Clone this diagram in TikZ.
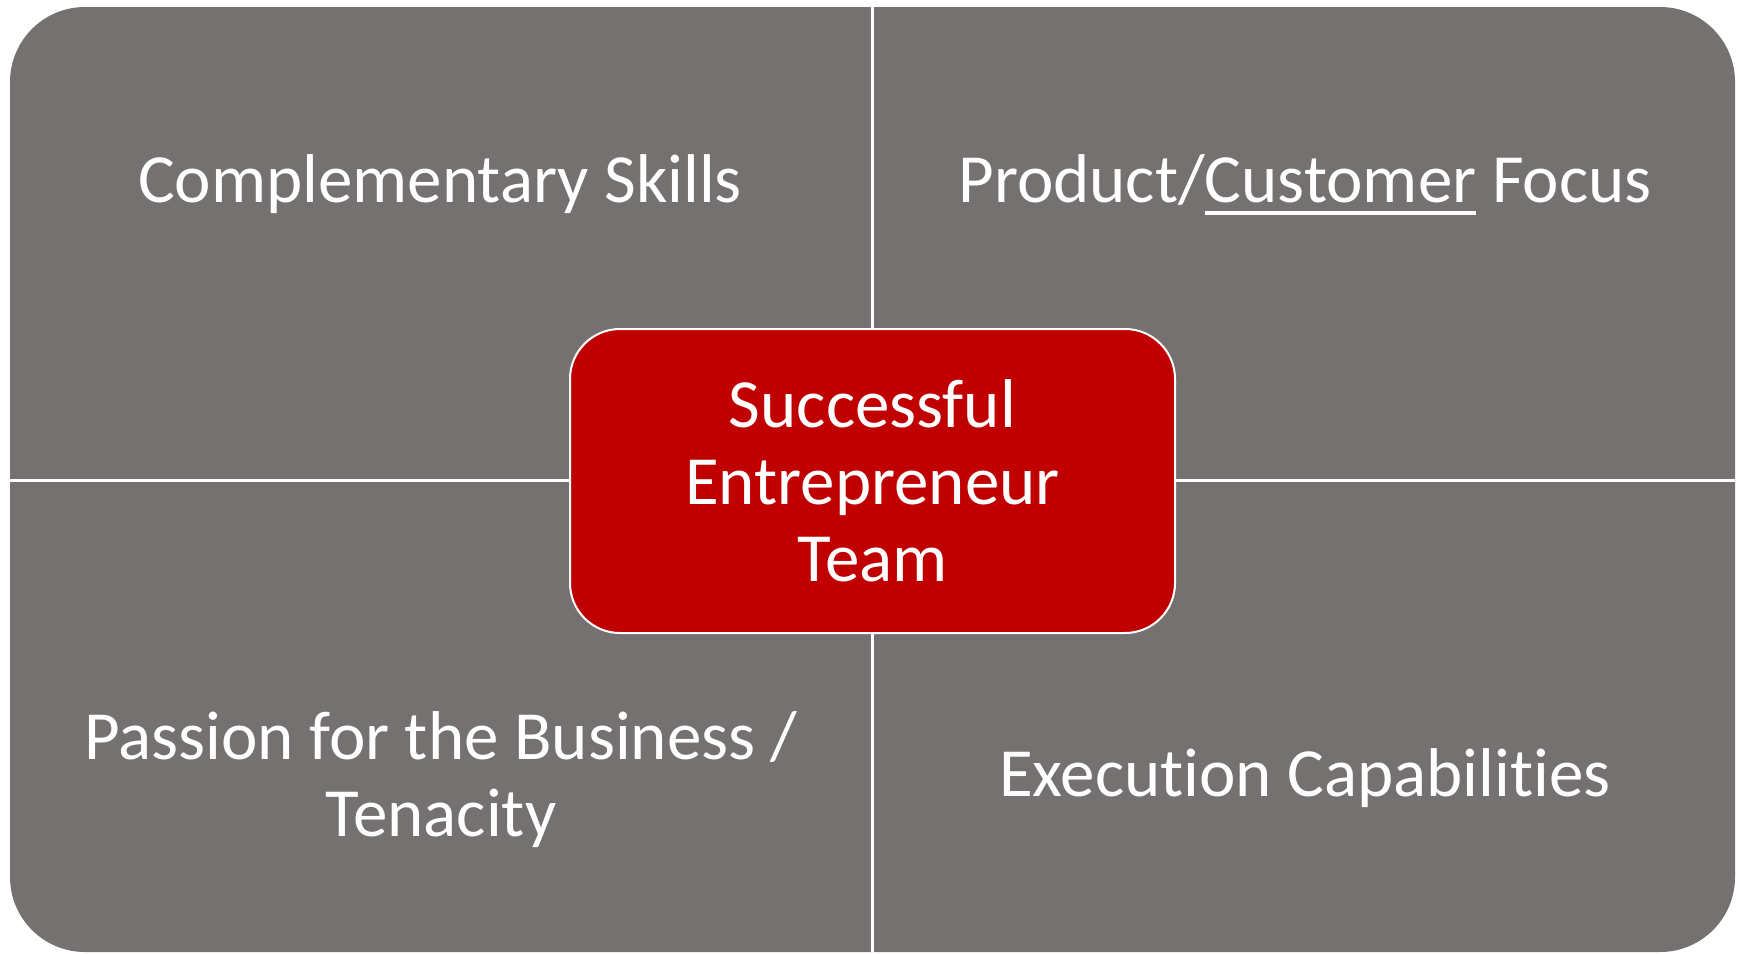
\documentclass[tikz,border=0pt]{standalone}
\usepackage{fontspec}
\setmainfont{Carlito}[Ligatures=NoCommon]
\usepackage{xcolor}
\usepackage{tikz}
\usetikzlibrary{positioning}
\definecolor{boardgray}{HTML}{767171}
\definecolor{hubred}{HTML}{C00000}
\newcommand{\ulword}[1]{\setbox0\hbox{#1}\rlap{\rule[-6.5pt]{\wd0}{2pt}}\box0\relax}
\tikzset{
  quad label/.style={
    text=white,
    font=\fontsize{34.5}{38.5}\selectfont,
    align=center,
    inner sep=0pt,
  },
  hub/.style={
    rectangle,
    rounded corners=25pt,
    minimum width=302.5pt,
    minimum height=152pt,
    fill=hubred,
    draw=white,
    line width=1pt,
    text=white,
    font=\fontsize{34.5}{38.5}\selectfont,
    align=center,
  },
  divider/.style={white, line width=1.5pt},
}

\begin{document}
\begin{tikzpicture}[x=0.5pt,y=-0.5pt]
  \useasboundingbox (0,0) rectangle (1743,953);

  % grey board, split in four by white gaps
  \fill[boardgray,rounded corners=37.5pt] (10,7) rectangle (1735,952);
  \coordinate (gap top) at (872.5,0);
  \coordinate (gap bottom) at (872.5,953);
  \coordinate (gap left) at (10,480.5);
  \coordinate (gap right) at (1735,480.5);
  \draw[divider] (gap top) -- (gap bottom);
  \draw[divider] (gap left) -- (gap right);

  \node[hub] (team) at (872.5,481) {Successful\\Entrepreneur\\Team};

  \node[quad label,anchor=base] (skills) at (440,202) {Complementary Skills};
  \node[quad label,anchor=base] (focus) at (1305,202) {Product/\ulword{Customer} Focus};
  % base sits on the last line here
  \node[quad label,anchor=base] (passion) at (441,836) {Passion for the Business /\\Tenacity};
  \node[quad label,anchor=base] (execution) at (1305,796) {Execution Capabilities};
\end{tikzpicture}
\end{document}
